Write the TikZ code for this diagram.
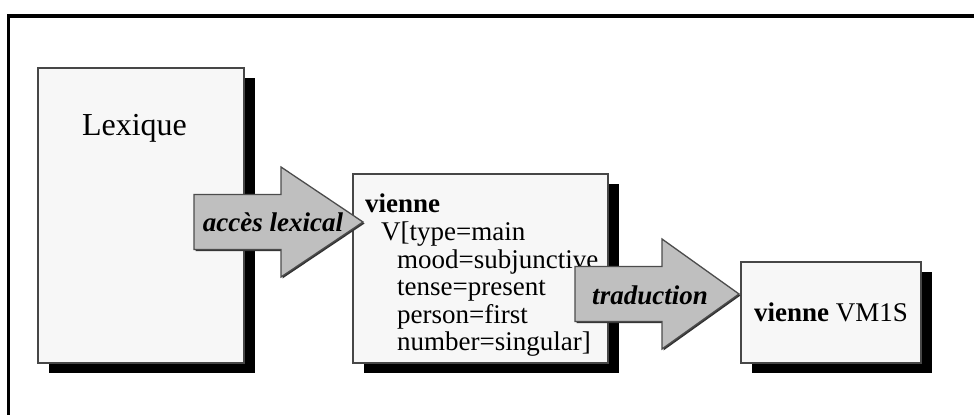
\documentclass[tikz,border=0pt]{standalone}
\usepackage{fontspec}
\setmainfont{Liberation Serif}
\usetikzlibrary{shadows}
\begin{document}
\begin{tikzpicture}[x=1pt,y=-1pt,
  card/.style={draw=black!72,fill=black!3,line width=1.5pt,inner sep=0pt,
    drop shadow={shadow xshift=11pt,shadow yshift=-10pt,fill=black,opacity=1}},
  bigarrow/.style={draw=black!70,fill=black!25,line width=1.3pt,
    drop shadow={shadow xshift=1.5pt,shadow yshift=-1.5pt,fill=black!80,opacity=1}},
  txt/.style={font=\fontsize{27}{27.6}\selectfont,inner sep=0pt},
  arrowtxt/.style={font=\fontsize{27}{27}\selectfont\bfseries\itshape,inner sep=0pt}]
\useasboundingbox (0,0) rectangle (974,415);
\draw[line width=3.5pt] (974,16) -- (8.5,16) -- (8.5,415);
\node[card,minimum width=206pt,minimum height=295pt] (lex) at (141,215.5) {};
\node[font=\fontsize{32}{32}\selectfont,anchor=base,inner sep=0pt] (lextxt) at (134.5,135) {Lexique};
\node[card,minimum width=255pt,minimum height=189pt] (mid) at (480.5,268.5) {};
\node[txt,anchor=north west,align=left] (midtxt) at (365,194) {\textbf{vienne}\\
  \hspace*{16pt}V[type=main\\
  \hspace*{32pt}mood=subjunctive\\
  \hspace*{32pt}tense=present\\
  \hspace*{32pt}person=first\\
  \hspace*{32pt}number=singular]};
\node[card,txt,minimum width=180pt,minimum height=101pt] (out) at (831,312.5) {\textbf{vienne} VM1S};
\draw[bigarrow] (194,194.5) -- (281,194.5) -- (281,167) -- (363,222) -- (281,277) -- (281,249.5) -- (194,249.5) -- cycle;
\node[arrowtxt] (acc) at (273,222) {accès lexical};
\draw[bigarrow] (575,266.5) -- (662,266.5) -- (662,239) -- (739,294) -- (662,349) -- (662,321.5) -- (575,321.5) -- cycle;
\node[arrowtxt] (trad) at (650,295) {traduction};
\end{tikzpicture}
\end{document}
